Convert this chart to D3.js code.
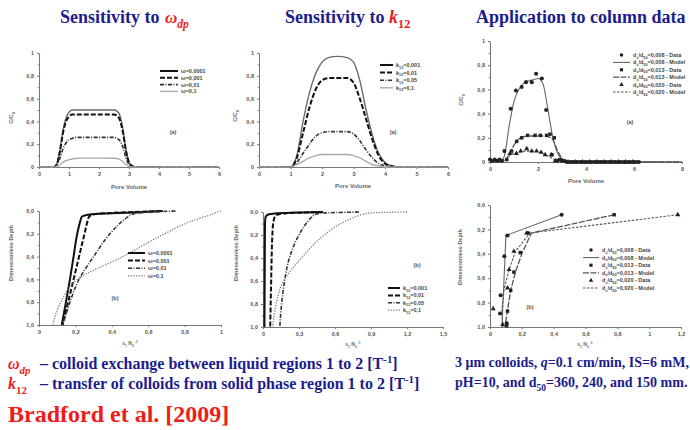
<!DOCTYPE html>
<html>
<head>
<meta charset="utf-8">
<script src="https://cdn.jsdelivr.net/npm/d3@7/dist/d3.min.js"></script>
<style>
body { margin: 0; background: #fff; }
svg { display: block; }
</style>
</head>
<body>
<script>
// ---------- data ----------

// (a) sensitivity to omega_dp : breakthrough curves
var pvOmega = [0, 0.5, 0.6, 0.7, 0.8, 0.9, 1.0, 1.1, 1.2, 1.5, 2.0, 2.5, 2.6, 2.7, 2.8, 2.9, 3.0, 3.1, 3.2, 4, 5, 6];
var omegaLabels = ["ω=0,0001", "ω=0,001", "ω=0,01", "ω=0,1"];
var cOmega1 = [0, 0, 0.03, 0.15, 0.32, 0.43, 0.48, 0.5, 0.5, 0.5, 0.5, 0.5, 0.49, 0.45, 0.33, 0.15, 0.04, 0.01, 0, 0, 0, 0];
var cOmega2 = [0, 0, 0.03, 0.14, 0.3, 0.4, 0.44, 0.46, 0.46, 0.46, 0.46, 0.46, 0.45, 0.41, 0.3, 0.14, 0.04, 0.01, 0, 0, 0, 0];
var cOmega3 = [0, 0, 0.02, 0.08, 0.16, 0.21, 0.24, 0.25, 0.26, 0.26, 0.26, 0.26, 0.25, 0.23, 0.17, 0.08, 0.02, 0.005, 0, 0, 0, 0];
var cOmega4 = [0, 0, 0.005, 0.02, 0.04, 0.055, 0.065, 0.07, 0.075, 0.078, 0.078, 0.077, 0.075, 0.065, 0.045, 0.02, 0.005, 0, 0, 0, 0, 0];

// (a) sensitivity to k12 : breakthrough curves
var pvK = [0, 1.0, 1.2, 1.4, 1.6, 1.8, 2.0, 2.2, 2.5, 2.8, 3.0, 3.2, 3.4, 3.6, 3.8, 4.0, 4.2, 4.4, 5, 6];
var kLabels = ["0,001", "0,01", "0,05", "0,1"];
var cK1 = [0, 0, 0.1, 0.4, 0.65, 0.82, 0.92, 0.96, 0.97, 0.96, 0.92, 0.76, 0.5, 0.28, 0.12, 0.04, 0.01, 0, 0, 0];
var cK2 = [0, 0, 0.08, 0.3, 0.52, 0.68, 0.76, 0.78, 0.78, 0.78, 0.74, 0.6, 0.42, 0.24, 0.1, 0.03, 0.01, 0, 0, 0];
var cK3 = [0, 0, 0.04, 0.12, 0.2, 0.27, 0.3, 0.31, 0.31, 0.31, 0.29, 0.23, 0.15, 0.08, 0.03, 0.01, 0, 0, 0, 0];
var cK4 = [0, 0, 0.02, 0.05, 0.08, 0.1, 0.11, 0.11, 0.11, 0.11, 0.1, 0.08, 0.05, 0.02, 0.01, 0, 0, 0, 0, 0];

// (a) column data : model curves + measured points
var ratioLabels = ["0,008", "0,013", "0,020"];
var pvModel = [0, 0.4, 0.6, 0.8, 1.0, 1.2, 1.4, 1.6, 1.8, 2.0, 2.2, 2.4, 2.6, 2.8, 3.0, 3.2, 3.4, 8];
var model1 = [0, 0, 0.05, 0.3, 0.5, 0.6, 0.65, 0.67, 0.68, 0.69, 0.65, 0.45, 0.22, 0.08, 0.02, 0, 0, 0];
var model2 = [0, 0, 0.01, 0.06, 0.14, 0.19, 0.21, 0.215, 0.215, 0.215, 0.215, 0.21, 0.19, 0.1, 0.03, 0, 0, 0];
var model3 = [0, 0, 0.01, 0.05, 0.07, 0.08, 0.09, 0.09, 0.09, 0.085, 0.07, 0.05, 0.03, 0.01, 0, 0, 0, 0];
var pvData1 = [0, 0.2, 0.4, 0.6, 0.86, 1.08, 1.32, 1.5, 1.74, 1.92, 2.16, 2.34, 2.58, 2.8, 3.0, 3.2, 3.4, 3.6, 3.8, 4.0, 4.2, 4.4, 4.6, 4.8, 5.0, 5.2, 5.4, 5.6, 5.8, 6.0, 6.2];
var data1 = [0.02, 0.02, 0.02, 0.09, 0.44, 0.59, 0.62, 0.66, 0.66, 0.73, 0.69, 0.43, 0.06, 0.01, 0.01, 0, 0, 0, 0, 0, 0, 0, 0, 0, 0, 0, 0, 0, 0, 0, 0];
var pvData2 = [0.1, 0.3, 0.5, 0.7, 0.9, 1.11, 1.32, 1.57, 1.88, 2.1, 2.36, 2.5, 2.68, 2.9, 3.1, 3.3, 3.5, 3.7, 3.9, 4.1, 4.3, 4.5, 4.7, 4.9, 5.1, 5.3, 5.5, 5.7, 5.9, 6.1];
var data2 = [0.01, 0.01, 0.01, 0.02, 0.09, 0.17, 0.2, 0.22, 0.22, 0.22, 0.22, 0.23, 0.2, 0.02, 0.01, 0, 0, 0, 0, 0, 0, 0, 0, 0, 0, 0, 0, 0, 0, 0];
var pvData3 = [0.83, 1.1, 1.28, 1.53, 1.74, 1.94, 2.13, 2.3, 2.55, 2.72, 3.0, 3.25, 3.55, 3.85, 4.15, 4.45, 4.75, 5.05, 5.35, 5.65, 5.95];
var data3 = [0.07, 0.07, 0.09, 0.11, 0.09, 0.09, 0.08, 0.06, 0.06, 0.01, 0.01, 0, 0, 0, 0, 0, 0, 0, 0, 0, 0];

// (b) retention profiles, omega_dp
var depthOmega = [0, 0.01, 0.02, 0.03, 0.05, 0.1, 0.2, 0.4, 0.6, 0.8, 1.0];
var sOmega1 = [0.68, 0.55, 0.4, 0.28, 0.235, 0.225, 0.21, 0.19, 0.17, 0.148, 0.125];
var sOmega2 = [0.67, 0.5, 0.36, 0.3, 0.275, 0.265, 0.25, 0.22, 0.19, 0.16, 0.13];
var sOmega3 = [0.75, 0.6, 0.54, 0.51, 0.49, 0.45, 0.39, 0.3, 0.22, 0.17, 0.13];
var sOmega4 = [1.0, 0.98, 0.96, 0.95, 0.91, 0.82, 0.69, 0.46, 0.21, 0.12, 0.075];

// (b) retention profiles, k12
var depthK = [0, 0.005, 0.01, 0.02, 0.03, 0.05, 0.1, 0.2, 0.4, 0.6, 0.8, 1.0];
var sK1 = [0.5, 0.3, 0.12, 0.05, 0.03, 0.02, 0.017, 0.016, 0.015, 0.014, 0.013, 0.012];
var sK2 = [0.5, 0.35, 0.2, 0.13, 0.11, 0.095, 0.085, 0.078, 0.072, 0.068, 0.064, 0.06];
var sK3 = [0.8, 0.6, 0.48, 0.44, 0.42, 0.4, 0.36, 0.3, 0.22, 0.18, 0.155, 0.14];
var sK4 = [1.2, 0.95, 0.88, 0.83, 0.8, 0.75, 0.65, 0.51, 0.32, 0.17, 0.11, 0.08];

// (b) column profiles : model + data
var depthM1 = [0.08, 0.25, 1.0];
var profM1 = [0.45, 0.1, 0.075];
var depthM2 = [0.08, 0.23, 0.4, 0.55, 0.7, 0.86, 1.0];
var profM2 = [0.78, 0.26, 0.2, 0.16, 0.13, 0.11, 0.095];
var depthM3 = [0.08, 0.23, 0.38, 0.53, 0.68, 0.85, 1.0];
var profM3 = [1.18, 0.25, 0.16, 0.12, 0.09, 0.075, 0.08];
var depthD1 = [0.08, 0.25, 0.42, 0.74, 0.89, 0.97];
var profD1 = [0.45, 0.11, 0.09, 0.067, 0.063, 0.105];
var depthD2 = [0.08, 0.23, 0.39, 0.55, 0.7, 0.87, 0.99];
var profD2 = [0.78, 0.24, 0.19, 0.15, 0.13, 0.11, 0.105];
var depthD3 = [0.08, 0.23, 0.38, 0.53, 0.68, 0.85, 0.98];
var profD3 = [1.18, 0.23, 0.15, 0.12, 0.11, 0.02, 0.08];

// tick values
var ticksPV6 = [0, 1, 2, 3, 4, 5, 6];
var ticksPV8 = [0, 2, 4, 6, 8];
var ticksC = [0, 0.2, 0.4, 0.6, 0.8, 1];
var ticksS1 = [0, 0.2, 0.4, 0.6, 0.8, 1];
var ticksS15 = [0, 0.3, 0.6, 0.9, 1.2, 1.5];
var ticksS12 = [0, 0.2, 0.4, 0.6, 0.8, 1, 1.2];
var minorC = [0.1, 0.3, 0.5, 0.7, 0.9];

// ---------- drawing ----------
var W = 690, H = 430;
var navy = "#1c1c8c", red = "#ee1c1c";
var loc = d3.formatLocale({decimal: ",", thousands: ".", grouping: [3], currency: ["", ""]});
var fG = loc.format("~g"), f1 = loc.format(".1f");

var svg = d3.select("body").append("svg")
    .attr("width", W)
    .attr("height", H)
    .style("font-family", "'Liberation Serif', 'Times New Roman', serif");

// text made of pieces: [text, "sub"|"sup"|"", fill, italic]
function rich(t, parts, fs) {
    var prev = 0;
    parts.forEach(function (p) {
        var shift = p[1] == "sub" ? 0.3 * fs : (p[1] == "sup" ? -0.4 * fs : 0);
        var ts = t.append("tspan")
            .attr("dy", shift - prev)
            .attr("font-size", p[1] ? fs * 0.68 : fs)
            .text(p[0]);
        if (p[2]) ts.attr("fill", p[2]);
        if (p[3]) ts.attr("font-style", "italic");
        prev = shift;
    });
    return t;
}

function slideText(x, y, fs, color, parts) {
    var t = svg.append("text").attr("x", x).attr("y", y)
        .attr("font-weight", "bold").attr("fill", color).attr("font-size", fs);
    return rich(t, parts, fs);
}

var small = "'Liberation Sans', Arial, sans-serif";

function panel(p) {
    var g = svg.append("g").style("font-family", small);
    var x = d3.scaleLinear().domain(p.xd).range(p.xr);
    var y = d3.scaleLinear().domain([0, 1]).range(p.yr);
    var axisY = Math.max(p.yr[0], p.yr[1]);

    var ax = g.append("g").attr("transform", "translate(0," + axisY + ")")
        .call(d3.axisBottom(x).tickValues(p.xt).tickFormat(p.fx).tickSize(2).tickSizeOuter(0).tickPadding(3));
    var ay = g.append("g").attr("transform", "translate(" + p.xr[0] + ",0)")
        .call(d3.axisLeft(y).tickValues(ticksC).tickFormat(p.fy).tickSize(2).tickSizeOuter(0).tickPadding(3));
    g.append("g").attr("transform", "translate(" + p.xr[0] + ",0)")
        .call(d3.axisLeft(y).tickValues(minorC).tickFormat("").tickSize(1.2).tickSizeOuter(0))
        .select(".domain").remove();
    [ax, ay].forEach(function (a) {
        a.selectAll("path, line").attr("stroke", "#777");
        a.selectAll("text").attr("font-size", 5.5).attr("font-weight", "bold").attr("fill", "#555");
    });
    g.selectAll("line").attr("stroke", "#777");

    // axis titles
    var xt = g.append("text").attr("x", p.xLab[0]).attr("y", p.xLab[1])
        .attr("text-anchor", "middle").attr("font-size", 6).attr("font-weight", "bold").attr("fill", "#666");
    rich(xt, p.xTitle, p.xLabSize || 6);
    var yt = g.append("text")
        .attr("transform", "translate(" + p.yLab[0] + "," + p.yLab[1] + ") rotate(-90)")
        .attr("text-anchor", "middle").attr("font-size", 5.5).attr("font-weight", "bold").attr("fill", "#666");
    rich(yt, p.yTitle, 5.5);
    g.append("text").attr("x", p.tag[0]).attr("y", p.tag[1]).attr("text-anchor", "middle")
        .attr("font-size", 5.5).attr("font-weight", "bold").attr("fill", "#555").text(p.tagText);

    // curves
    p.lines.forEach(function (s) {
        var pts = s.xs.map(function (v, i) { return [v, s.ys[i]]; });
        var line = d3.line()
            .x(function (d) { return p.profile ? x(d[1]) : x(d[0]); })
            .y(function (d) { return p.profile ? y(d[0]) : y(d[1]); })
            .curve(s.curve || (p.profile ? d3.curveMonotoneY : d3.curveMonotoneX));
        g.append("path").datum(pts)
            .attr("d", line)
            .attr("fill", "none")
            .attr("stroke", s.stroke)
            .attr("stroke-width", s.width)
            .attr("stroke-dasharray", s.dash);
    });

    // measured points
    (p.points || []).forEach(function (s) {
        g.selectAll(null).data(s.xs.map(function (v, i) { return [v, s.ys[i]]; }))
            .enter().append("path")
            .attr("transform", function (d) {
                return p.profile ? "translate(" + x(d[1]) + "," + y(d[0]) + ")"
                                 : "translate(" + x(d[0]) + "," + y(d[1]) + ")";
            })
            .attr("d", d3.symbol().type(s.symbol).size(s.size))
            .attr("fill", "#222");
    });

    // legend
    var L = p.legend;
    L.items.forEach(function (it, i) {
        var yy = L.y + i * L.dy;
        if (it.line) {
            g.append("line").attr("x1", L.x).attr("x2", L.x + L.len).attr("y1", yy).attr("y2", yy)
                .attr("stroke", it.line.stroke).attr("stroke-width", it.line.width)
                .attr("stroke-dasharray", it.line.dash);
        }
        if (it.symbol) {
            g.append("path").attr("transform", "translate(" + (L.x + L.len / 2) + "," + yy + ")")
                .attr("d", d3.symbol().type(it.symbol).size(it.size)).attr("fill", "#222");
        }
        var t = g.append("text").attr("x", L.x + L.len + 3).attr("y", yy + 2)
            .attr("font-size", 5.5).attr("font-weight", "bold").attr("fill", "#444");
        rich(t, it.label, 5.5);
    });
}

// line styles
var stSolidGray = {stroke: "#6a6a6a", width: 1.4};
var stSolid = {stroke: "#111", width: 2};
var stDash = {stroke: "#111", width: 2, dash: "5,2"};
var stDashDot = {stroke: "#333", width: 1.6, dash: "4,1.5,1,1.5"};
var stThinGray = {stroke: "#aaa", width: 1.4};
var stDotted = {stroke: "#777", width: 1.3, dash: "1.2,1.5"};
var stModel1 = {stroke: "#666", width: 1.1};
var stModel2 = {stroke: "#555", width: 1.3, dash: "6,1.5"};
var stModel3 = {stroke: "#555", width: 1.1, dash: "2.5,1.5"};

function withData(st, xs, ys) { return Object.assign({xs: xs, ys: ys}, st); }

var pvTitle = [["Pore Volume", ""]];
var ccTitle = [["C/C", ""], ["0", "sub"]];
var depthTitle = [["Dimensionless Depth", ""]];
var sTitle = [["s", ""], ["1", "sub"], [" N", ""], ["0", "sub"], [" -1", "sup"]];
function dLabel(r, kind) { return [["d", ""], ["c", "sub"], ["/d", ""], ["50", "sub"], ["=" + r + " - " + kind, ""]]; }
function kLabel(v) { return [["k", ""], ["12", "sub"], ["=" + v, ""]]; }

// top-left
panel({
    xr: [39, 219], yr: [167, 53], xd: [0, 6], xt: ticksPV6, fx: fG, fy: fG,
    xLab: [129, 189], xTitle: pvTitle, yLab: [13, 118], yTitle: ccTitle,
    tag: [173, 134], tagText: "(a)",
    lines: [withData(stSolidGray, pvOmega, cOmega1), withData(stDash, pvOmega, cOmega2),
            withData(stDashDot, pvOmega, cOmega3), withData(stThinGray, pvOmega, cOmega4)],
    legend: {x: 160, y: 71, dy: 6.8, len: 18, items: [
        {line: stSolid, label: [[omegaLabels[0], ""]]}, {line: stDash, label: [[omegaLabels[1], ""]]},
        {line: stDashDot, label: [[omegaLabels[2], ""]]}, {line: stThinGray, label: [[omegaLabels[3], ""]]}]}
});

// top-middle
panel({
    xr: [259, 448], yr: [167, 53], xd: [0, 6], xt: ticksPV6, fx: fG, fy: fG,
    xLab: [353, 188], xTitle: pvTitle, yLab: [237, 116], yTitle: ccTitle,
    tag: [393, 134], tagText: "(a)",
    lines: [withData(stSolidGray, pvK, cK1), withData(stDash, pvK, cK2),
            withData(stDashDot, pvK, cK3), withData(stThinGray, pvK, cK4)],
    legend: {x: 380, y: 65, dy: 7.6, len: 13, items: [
        {line: stSolid, label: kLabel(kLabels[0])}, {line: stDash, label: kLabel(kLabels[1])},
        {line: stDashDot, label: kLabel(kLabels[2])}, {line: stThinGray, label: kLabel(kLabels[3])}]}
});

// top-right
panel({
    xr: [490, 682], yr: [162, 41], xd: [0, 8], xt: ticksPV8, fx: fG, fy: fG,
    xLab: [586, 183], xTitle: pvTitle, yLab: [463, 100], yTitle: ccTitle,
    tag: [630, 124], tagText: "(a)",
    lines: [withData(stModel1, pvModel, model1), withData(stModel2, pvModel, model2),
            withData(stModel3, pvModel, model3)],
    points: [{xs: pvData1, ys: data1, symbol: d3.symbolCircle, size: 13},
             {xs: pvData2, ys: data2, symbol: d3.symbolSquare, size: 12},
             {xs: pvData3, ys: data3, symbol: d3.symbolTriangle, size: 11}],
    legend: {x: 613, y: 55, dy: 7.4, len: 17, items: [
        {symbol: d3.symbolCircle, size: 10, label: dLabel(ratioLabels[0], "Data")},
        {line: stModel1, label: dLabel(ratioLabels[0], "Model")},
        {symbol: d3.symbolSquare, size: 10, label: dLabel(ratioLabels[1], "Data")},
        {line: stModel2, label: dLabel(ratioLabels[1], "Model")},
        {symbol: d3.symbolTriangle, size: 9, label: dLabel(ratioLabels[2], "Data")},
        {line: stModel3, label: dLabel(ratioLabels[2], "Model")}]}
});

// bottom-left
panel({
    profile: true,
    xr: [39, 221], yr: [211, 325], xd: [0, 1], xt: ticksS1, fx: fG, fy: f1,
    xLab: [130, 345], xLabSize: 5, xTitle: sTitle, yLab: [13, 253], yTitle: depthTitle,
    tag: [115, 300], tagText: "(b)",
    lines: [withData(stSolid, depthOmega, sOmega1), withData(stDash, depthOmega, sOmega2),
            withData(stDashDot, depthOmega, sOmega3), withData(stDotted, depthOmega, sOmega4)],
    legend: {x: 128, y: 253, dy: 7.6, len: 17, items: [
        {line: stSolid, label: [[omegaLabels[0], ""]]}, {line: stDash, label: [[omegaLabels[1], ""]]},
        {line: stDashDot, label: [[omegaLabels[2], ""]]}, {line: stDotted, label: [[omegaLabels[3], ""]]}]}
});

// bottom-middle
panel({
    profile: true,
    xr: [263, 443], yr: [212, 327], xd: [0, 1.5], xt: ticksS15, fx: fG, fy: f1,
    xLab: [353, 346], xLabSize: 5, xTitle: sTitle, yLab: [238, 253], yTitle: depthTitle,
    tag: [417, 267], tagText: "(b)",
    lines: [withData(stSolid, depthK, sK1), withData(stDash, depthK, sK2),
            withData(stDashDot, depthK, sK3), withData(stDotted, depthK, sK4)],
    legend: {x: 388, y: 288, dy: 7.4, len: 12, items: [
        {line: stSolid, label: kLabel(kLabels[0])}, {line: stDash, label: kLabel(kLabels[1])},
        {line: stDashDot, label: kLabel(kLabels[2])}, {line: stDotted, label: kLabel(kLabels[3])}]}
});

// bottom-right
panel({
    profile: true,
    xr: [490, 681], yr: [205, 327], xd: [0, 1.2], xt: ticksS12, fx: fG, fy: f1,
    xLab: [585, 346], xLabSize: 5, xTitle: sTitle, yLab: [462, 257], yTitle: depthTitle,
    tag: [530, 309], tagText: "(b)",
    lines: [Object.assign({curve: d3.curveLinear}, withData(stModel1, depthM1, profM1)),
            Object.assign({curve: d3.curveLinear}, withData(stModel2, depthM2, profM2)),
            Object.assign({curve: d3.curveLinear}, withData(stModel3, depthM3, profM3))],
    points: [{xs: depthD1, ys: profD1, symbol: d3.symbolCircle, size: 13},
             {xs: depthD2, ys: profD2, symbol: d3.symbolSquare, size: 12},
             {xs: depthD3, ys: profD3, symbol: d3.symbolTriangle, size: 11}],
    legend: {x: 583, y: 250, dy: 7.6, len: 16, items: [
        {symbol: d3.symbolCircle, size: 10, label: dLabel(ratioLabels[0], "Data")},
        {line: stModel1, label: dLabel(ratioLabels[0], "Model")},
        {symbol: d3.symbolSquare, size: 10, label: dLabel(ratioLabels[1], "Data")},
        {line: stModel2, label: dLabel(ratioLabels[1], "Model")},
        {symbol: d3.symbolTriangle, size: 9, label: dLabel(ratioLabels[2], "Data")},
        {line: stModel3, label: dLabel(ratioLabels[2], "Model")}]}
});

// ---------- slide text ----------
slideText(60, 23, 18, navy, [["Sensitivity to ", ""]]);
slideText(165, 23, 17, red, [["ω", "", red, true], ["dp", "sub", red, true]]);
slideText(285, 23, 18, navy, [["Sensitivity to ", ""], ["k", "", red, true], ["12", "sub", red]]);
slideText(476, 23, 18, navy, [["Application to column data", ""]]);

slideText(8, 369, 16, red, [["ω", "", red, true], ["dp", "sub", red, true]]);
slideText(40, 369, 16, navy, [["– colloid exchange between liquid regions 1 to 2 [T", ""], ["-1", "sup"], ["]", ""]]);
slideText(8, 389, 16, red, [["k", "", red, true], ["12", "sub", red]]);
slideText(40, 389, 16, navy, [["– transfer of colloids from solid phase region 1 to 2 [T", ""], ["-1", "sup"], ["]", ""]]);
slideText(8, 422, 24, red, [["Bradford et al. [2009]", ""]]);

slideText(455, 367, 14, navy, [["3 μm colloids, ", ""], ["q", "", null, true], ["=0.1 cm/min, IS=6 mM,", ""]]);
slideText(455, 387, 14, navy, [["pH=10, and d", ""], ["50", "sub"], ["=360, 240, and 150 mm.", ""]]);
</script>
</body>
</html>
